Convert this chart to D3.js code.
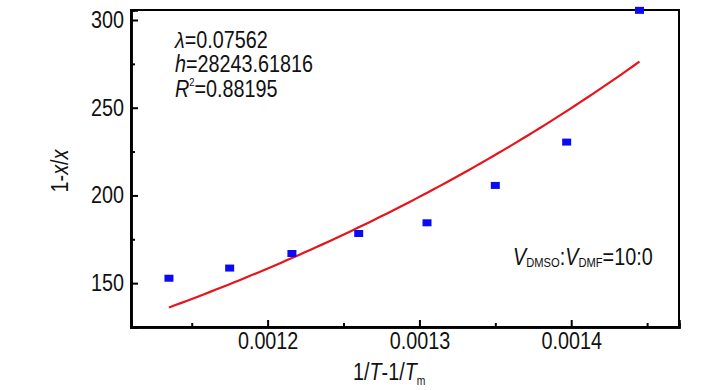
<!DOCTYPE html>
<html><head><meta charset="utf-8">
<script src="https://cdn.jsdelivr.net/npm/d3@7"></script>
<style>
html,body{margin:0;padding:0;background:#fff;}
text{font-family:"Liberation Sans",Arial,sans-serif;fill:#111;}
</style></head><body>
<svg id="c" width="728" height="390"></svg>
<script>
// data
const xVals = [0.001135, 0.001175, 0.001216, 0.00126, 0.001305, 0.00135, 0.001397, 0.001445];
const yVals = [152.8, 158.6, 166.9, 178.3, 184.4, 205.7, 230.4, 305.5];
const xTicks = [0.0012, 0.0013, 0.0014];
const xMinor = [0.00115, 0.00125, 0.00135, 0.00145];
const yTicks = [150, 200, 250, 300];
const yMinor = [175, 225, 275];
// fitted λh model parameters (shown in the chart)
const lambda = 0.07562;
const hParam = 28243.61816;
const r2 = 0.88195;

const svg = d3.select("#c");
const L = 131, R = 679, T = 10, B = 327;
const SX = 0.86; // condensed look
const fs = 23;
const x = d3.scaleLinear().domain([0.00111, 0.001471]).range([L, R]);
const y = d3.scaleLinear().domain([125, 305.7]).range([B, T]);

// frame
svg.append("rect").attr("x", L).attr("y", T).attr("width", R - L).attr("height", B - T)
  .attr("fill", "none").attr("stroke", "#000").attr("stroke-width", 2);

// axes
const gx = svg.append("g").attr("transform", `translate(0,${B})`)
  .call(d3.axisBottom(x).tickValues(xTicks).tickFormat(d3.format(".4f")).tickSize(-7).tickPadding(6));
const gxm = svg.append("g").attr("transform", `translate(0,${B})`)
  .call(d3.axisBottom(x).tickValues(xMinor).tickFormat("").tickSize(-4));
const gy = svg.append("g").attr("transform", `translate(${L},0)`)
  .call(d3.axisLeft(y).tickValues(yTicks).tickSize(-7).tickPadding(7 / SX));
const gym = svg.append("g").attr("transform", `translate(${L},0)`)
  .call(d3.axisLeft(y).tickValues(yMinor).tickFormat("").tickSize(-4));
[gx, gxm, gy, gym].forEach(g => {
  g.select(".domain").attr("stroke", "#000").attr("stroke-width", 2.5);
  g.selectAll(".tick line").attr("stroke", "#000").attr("stroke-width", 2);
  g.selectAll(".tick text").attr("font-size", fs).attr("fill", "#111")
    .style("font-family", '"Liberation Sans",Arial,sans-serif')
    .attr("transform", `scale(${SX},1)`);
});

// fitted curve
const curvePts = d3.range(0, 81).map(i => {
  const X = xVals[0] + (xVals[xVals.length - 1] - xVals[0]) * i / 80;
  return [X, (Math.exp(lambda * hParam * X) - 1) / lambda];
});
svg.append("path").datum(curvePts)
  .attr("d", d3.line().x(d => x(d[0])).y(d => y(d[1])).curve(d3.curveMonotoneX))
  .attr("fill", "none").attr("stroke", "#e8141c").attr("stroke-width", 2.2);

// points
svg.selectAll("rect.pt").data(xVals).enter().append("rect").attr("class", "pt")
  .attr("x", (d) => x(d) - 4.5).attr("y", (d, i) => y(yVals[i]) - 3.5)
  .attr("width", 9).attr("height", 7).attr("fill", "#0a0af5");

function label(px, py, extra) {
  return svg.append("g").attr("transform", `translate(${px},${py}) ${extra || ""} scale(${SX},1)`)
    .append("text").attr("x", 0).attr("y", 0).attr("font-size", fs);
}

// annotation
const t1 = label(175, 48);
t1.append("tspan").attr("font-style", "italic").text("λ");
t1.append("tspan").text("=" + lambda);
const t2 = label(175, 72);
t2.append("tspan").attr("font-style", "italic").text("h");
t2.append("tspan").text("=" + hParam.toFixed(5));
const t3 = label(175, 97);
t3.append("tspan").attr("font-style", "italic").text("R");
t3.append("tspan").attr("font-size", 11).attr("dy", -11).text("2");
t3.append("tspan").attr("dy", 11).text("=" + r2);

const t4 = label(513, 265);
t4.append("tspan").attr("font-style", "italic").text("V");
t4.append("tspan").attr("font-size", 13).attr("dy", 2).text("DMSO");
t4.append("tspan").attr("dy", -2).text(":");
t4.append("tspan").attr("font-style", "italic").text("V");
t4.append("tspan").attr("font-size", 13).attr("dy", 2).text("DMF");
t4.append("tspan").attr("dy", -2).text("=10:0");

// axis titles
const xt = label(353, 380);
xt.append("tspan").text("1/");
xt.append("tspan").attr("font-style", "italic").text("T");
xt.append("tspan").text("-1/");
xt.append("tspan").attr("font-style", "italic").text("T");
xt.append("tspan").attr("font-size", 12).attr("dy", 5).text("m");

const yt = label(68, 171, "rotate(-90)").attr("text-anchor", "middle");
yt.append("tspan").text("1-");
yt.append("tspan").attr("font-style", "italic").text("x");
yt.append("tspan").text("/");
yt.append("tspan").attr("font-style", "italic").text("x");
</script>
</body></html>
